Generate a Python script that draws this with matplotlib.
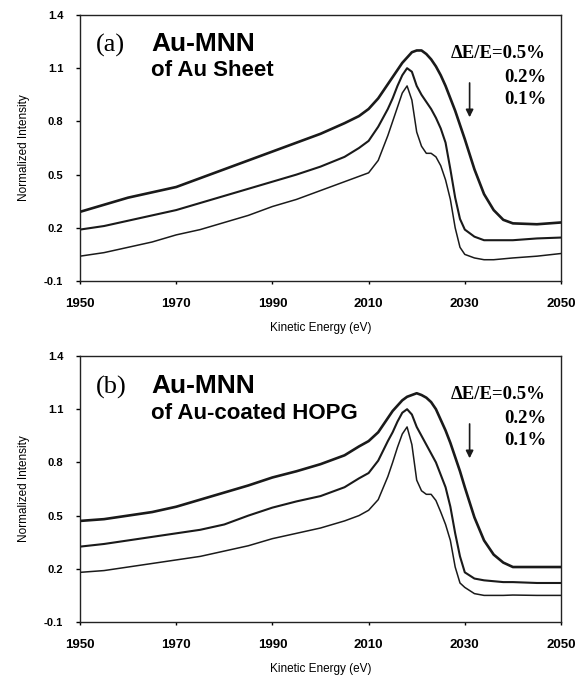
import matplotlib
matplotlib.use("Agg")
import matplotlib.pyplot as plt

energy = [1950, 1955, 1960, 1965, 1970, 1975, 1980, 1985, 1990, 1995, 2000, 2005, 2008,
          2010, 2012, 2014, 2015, 2016, 2017, 2018, 2019, 2020, 2021, 2022, 2023, 2024,
          2025, 2026, 2027, 2028, 2029, 2030, 2032, 2034, 2036, 2038, 2040, 2045, 2050]

# (a) Au sheet
a_05 = [0.29, 0.33, 0.37, 0.40, 0.43, 0.48, 0.53, 0.58, 0.63, 0.68, 0.73, 0.79, 0.83,
        0.87, 0.93, 1.01, 1.05, 1.09, 1.13, 1.16, 1.19, 1.20, 1.20, 1.18, 1.15, 1.11,
        1.06, 1.00, 0.93, 0.86, 0.78, 0.70, 0.53, 0.39, 0.30, 0.245, 0.225, 0.22, 0.23]
a_02 = [0.19, 0.21, 0.24, 0.27, 0.30, 0.34, 0.38, 0.42, 0.46, 0.50, 0.545, 0.60, 0.65,
        0.69, 0.77, 0.87, 0.93, 1.00, 1.06, 1.10, 1.08, 1.00, 0.95, 0.91, 0.87, 0.82,
        0.76, 0.68, 0.53, 0.37, 0.25, 0.19, 0.15, 0.13, 0.13, 0.13, 0.13, 0.14, 0.145]
a_01 = [0.04, 0.06, 0.09, 0.12, 0.16, 0.19, 0.23, 0.27, 0.32, 0.36, 0.41, 0.46, 0.49,
        0.51, 0.58, 0.72, 0.80, 0.88, 0.96, 1.00, 0.92, 0.74, 0.66, 0.62, 0.62, 0.60,
        0.55, 0.47, 0.36, 0.20, 0.09, 0.05, 0.03, 0.02, 0.02, 0.025, 0.03, 0.04, 0.055]

# (b) Au-coated HOPG
b_05 = [0.47, 0.48, 0.50, 0.52, 0.55, 0.59, 0.63, 0.67, 0.715, 0.75, 0.79, 0.84, 0.89,
        0.92, 0.97, 1.05, 1.09, 1.12, 1.15, 1.17, 1.18, 1.19, 1.18, 1.165, 1.14, 1.10,
        1.04, 0.98, 0.91, 0.83, 0.75, 0.66, 0.49, 0.36, 0.28, 0.235, 0.21, 0.21, 0.21]
b_02 = [0.325, 0.34, 0.36, 0.38, 0.40, 0.42, 0.45, 0.50, 0.545, 0.58, 0.61, 0.66, 0.71,
        0.74, 0.81, 0.92, 0.97, 1.03, 1.08, 1.10, 1.07, 1.00, 0.95, 0.90, 0.85, 0.80,
        0.73, 0.66, 0.55, 0.40, 0.27, 0.18, 0.145, 0.135, 0.13, 0.125, 0.125, 0.12, 0.12]
b_01 = [0.18, 0.19, 0.21, 0.23, 0.25, 0.27, 0.30, 0.33, 0.37, 0.40, 0.43, 0.47, 0.50,
        0.53, 0.59, 0.72, 0.80, 0.885, 0.96, 1.00, 0.90, 0.70, 0.64, 0.62, 0.62, 0.585,
        0.52, 0.45, 0.36, 0.21, 0.12, 0.095, 0.06, 0.05, 0.05, 0.05, 0.052, 0.05, 0.05]

xticks = [1950, 1970, 1990, 2010, 2030, 2050]
yticks = [-0.1, 0.2, 0.5, 0.8, 1.1, 1.4]
ytick_labels = ["-0.1", "0.2", "0.5", "0.8", "1.1", "1.4"]
res_labels = ["\u0394E/E=0.5%", "0.2%", "0.1%"]
panels = [
    ("(a)", "Au-MNN", "of Au Sheet", [a_05, a_02, a_01]),
    ("(b)", "Au-MNN", "of Au-coated HOPG", [b_05, b_02, b_01]),
]

SANS = "Liberation Sans"
SERIF = "Liberation Serif"

fig = plt.figure(figsize=(5.86, 6.79), dpi=100)
axes_rects = [
    [80 / 586, 1 - 281 / 679, 481 / 586, 266 / 679],
    [80 / 586, 1 - 622 / 679, 481 / 586, 266 / 679],
]
text_y = [(0.885, 0.892, 0.79), (0.88, 0.889, 0.782)]
lws = [1.9, 1.5, 1.1]

for rect, (tag, title, sub, series), (ty_tag, ty_title, ty_sub) in zip(axes_rects, panels, text_y):
    ax = fig.add_axes(rect)
    for s, lw in zip(series, lws):
        ax.plot(energy, s, color="#1a1a1a", lw=lw, solid_joinstyle="round")
    ax.set_xlim(1950, 2050)
    ax.set_ylim(-0.1, 1.4)
    ax.set_xticks(xticks)
    ax.set_yticks(yticks)
    ax.set_yticklabels(ytick_labels)
    for sp in ax.spines.values():
        sp.set_linewidth(1.0)
        sp.set_color("#222222")
    ax.tick_params(axis="y", direction="out", length=3, width=1, pad=9,
                   labelsize=8)
    ax.tick_params(axis="x", direction="out", length=2, width=1, pad=10,
                   labelsize=9.5)
    for lab in ax.get_xticklabels() + ax.get_yticklabels():
        lab.set_fontfamily(SANS)
        lab.set_fontweight("bold")
    ax.set_xlabel("Kinetic Energy (eV)", fontfamily=SANS, fontsize=8.5,
                  labelpad=9)
    ax.set_ylabel("Normalized Intensity", fontfamily=SANS, fontsize=8.5,
                  labelpad=10)

    ax.text(0.034, ty_tag, tag, transform=ax.transAxes, fontfamily=SERIF,
            fontsize=19, va="center", ha="left")
    ax.text(0.148, ty_title, title, transform=ax.transAxes, fontfamily=SANS,
            fontsize=19, fontweight="bold", va="center", ha="left")
    ax.text(0.148, ty_sub, sub, transform=ax.transAxes, fontfamily=SANS,
            fontsize=16, fontweight="bold", va="center", ha="left")
    ys = [0.856, 0.766, 0.683]
    for lab, yy in zip(res_labels, ys):
        ax.text(0.969, yy, lab, transform=ax.transAxes, fontfamily=SERIF,
                fontsize=13.5, fontweight="bold", va="center", ha="right")
    ax.annotate("", xy=(0.81, 0.605), xytext=(0.81, 0.755),
                xycoords="axes fraction", textcoords="axes fraction",
                arrowprops=dict(arrowstyle="-|>", color="#1a1a1a", lw=1.2,
                                mutation_scale=11))

fig.savefig("out.png", dpi=100)
